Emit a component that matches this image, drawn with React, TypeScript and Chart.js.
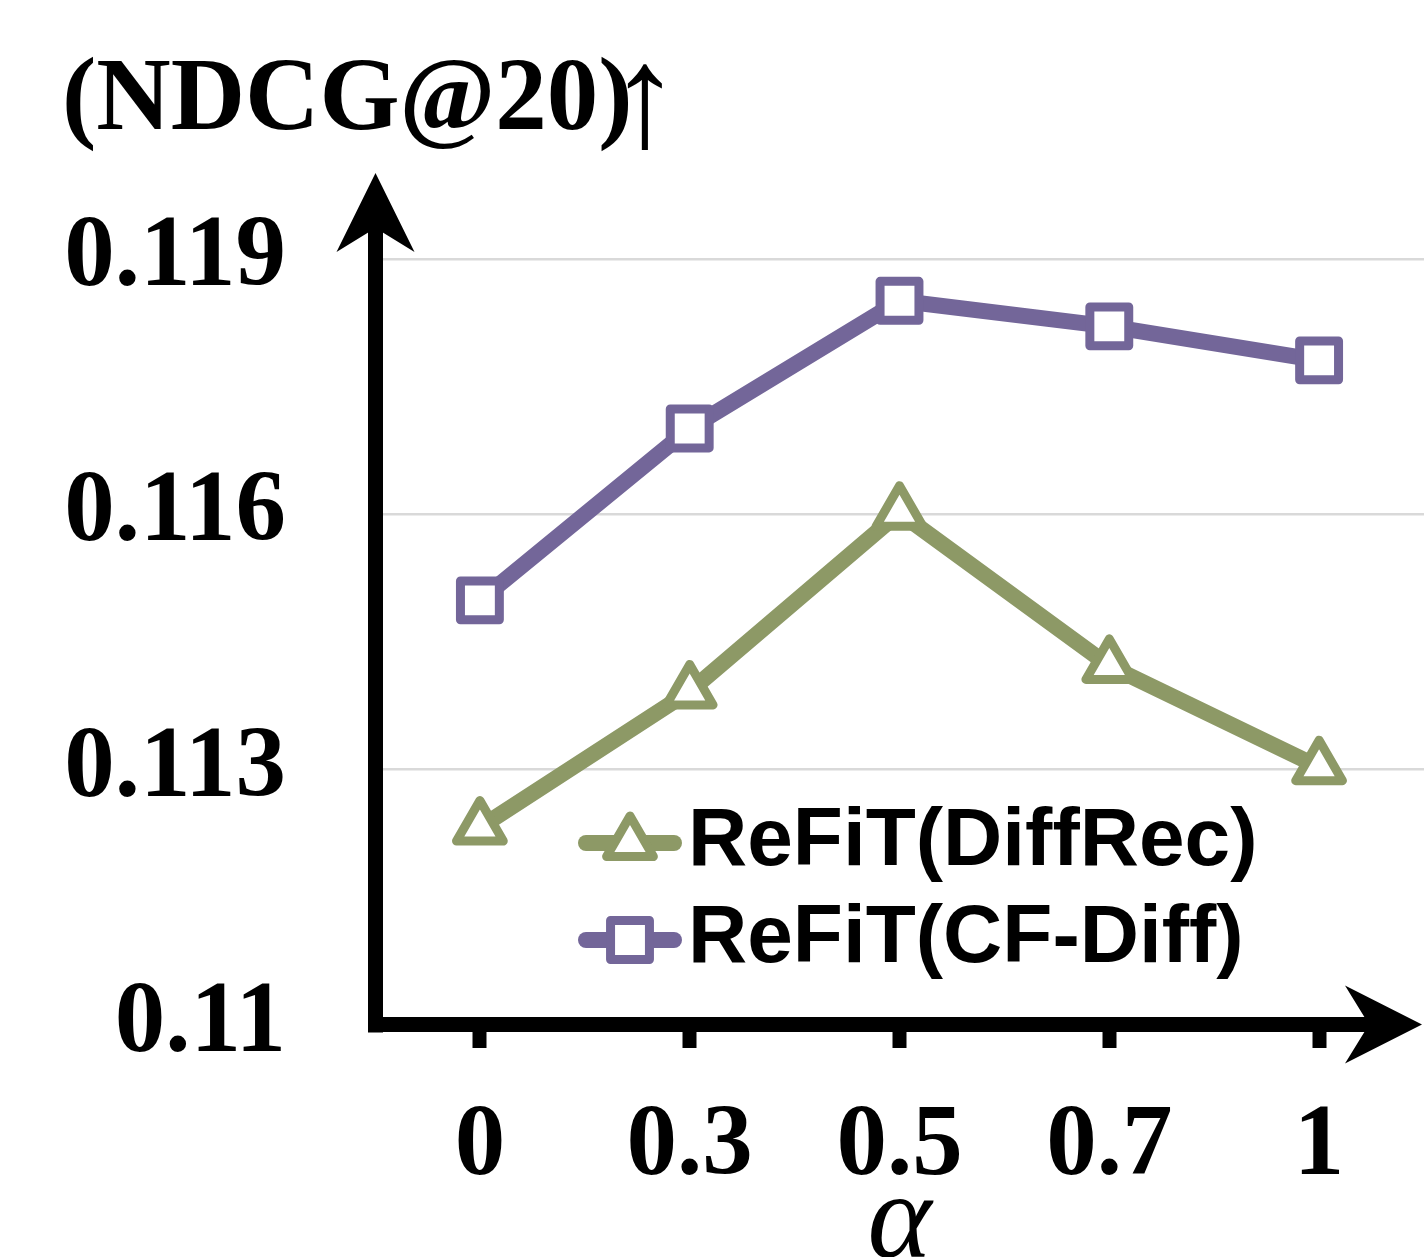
import { useEffect, useRef } from 'react';
import { Chart, registerables } from 'chart.js';
import { drawPoint } from 'chart.js/helpers';

Chart.register(...registerables);

// ---- data ----
const categories = ['0', '0.3', '0.5', '0.7', '1'];
const diffRecValues = [0.11232, 0.11392, 0.11602, 0.11422, 0.11303];
const cfDiffValues = [0.11499, 0.11701, 0.11851, 0.11821, 0.11781];
const yTickValues = [0.11, 0.113, 0.116, 0.119];
const seriesNames = ['ReFiT(DiffRec)', 'ReFiT(CF-Diff)'];
const yAxisTitle = '(NDCG@20)';
const yAxisArrow = '↑';
const xAxisTitle = 'α';

const GREEN = '#8D9966';
const PURPLE = '#736699';

const decorPlugin = {
  id: 'decor',
  beforeDatasetsDraw(chart: any) {
    chart.ctx.lineJoin = 'round';
  },
  afterDraw(chart: any) {
    const { ctx, chartArea: a } = chart;
    ctx.save();
    ctx.fillStyle = '#000';
    const w = 15;
    // y axis line
    const yTipY = a.top - 1;
    const yCx = a.left + 0.5;
    ctx.fillRect(yCx - w / 2, yTipY + 50, w, a.bottom + w / 2 - (yTipY + 50));
    // x axis line
    const xTipX = a.right - 2;
    const xCy = a.bottom - 0.5;
    ctx.fillRect(yCx - w / 2, xCy - w / 2, xTipX - 50 - (yCx - w / 2), w);
    // y arrow head
    ctx.beginPath();
    ctx.moveTo(yCx, yTipY);
    ctx.lineTo(yCx + 39, yTipY + 79);
    ctx.lineTo(yCx, yTipY + 55);
    ctx.lineTo(yCx - 39, yTipY + 79);
    ctx.closePath();
    ctx.fill();
    // x arrow head
    ctx.beginPath();
    ctx.moveTo(xTipX, xCy);
    ctx.lineTo(xTipX - 77, xCy - 39);
    ctx.lineTo(xTipX - 53, xCy);
    ctx.lineTo(xTipX - 77, xCy + 39);
    ctx.closePath();
    ctx.fill();

    // y axis title
    ctx.textAlign = 'left';
    ctx.textBaseline = 'alphabetic';
    ctx.font = 'bold 103px "Liberation Serif"';
    ctx.fillText(yAxisTitle, 62, 129);
    ctx.textAlign = 'center';
    ctx.font = '145px "Liberation Serif", "DejaVu Serif"';
    ctx.fillText(yAxisArrow, 645, 146);

    // legend
    ctx.textAlign = 'left';
    chart.data.datasets.forEach((ds: any, i: number) => {
      const cy = 843 + i * 97;
      ctx.strokeStyle = ds.borderColor;
      ctx.lineWidth = 16;
      ctx.lineCap = 'round';
      ctx.beginPath();
      ctx.moveTo(586, cy);
      ctx.lineTo(674, cy);
      ctx.stroke();
      ctx.lineJoin = 'round';
      ctx.lineWidth = ds.pointBorderWidth;
      ctx.fillStyle = '#fff';
      drawPoint(ctx, { pointStyle: ds.pointStyle, radius: ds.pointRadius, rotation: 0, borderWidth: ds.pointBorderWidth } as any, 630, cy);
      ctx.fillStyle = '#000';
      ctx.font = 'bold 82px "Liberation Sans"';
      ctx.textBaseline = 'middle';
      ctx.fillText(seriesNames[i], 688, cy - 1);
    });
    ctx.restore();
  },
};

export default function App() {
  const ref = useRef<HTMLCanvasElement>(null);
  useEffect(() => {
    document.body.style.margin = '0';
    const tickFont = { family: 'Liberation Serif', size: 101, weight: 'bold' as const };
    const chart = new Chart(ref.current!, {
      type: 'line',
      data: {
        labels: categories,
        datasets: [
          {
            label: seriesNames[0],
            data: diffRecValues,
            borderColor: GREEN,
            backgroundColor: '#fff',
            borderWidth: 16,
            tension: 0,
            borderJoinStyle: 'round',
            pointStyle: 'triangle',
            pointRadius: 27,
            pointBorderWidth: 9,
            pointBackgroundColor: '#fff',
            pointBorderColor: GREEN,
            clip: false as any,
          },
          {
            label: seriesNames[1],
            data: cfDiffValues,
            borderColor: PURPLE,
            backgroundColor: '#fff',
            borderWidth: 16,
            tension: 0,
            borderJoinStyle: 'round',
            pointStyle: 'rect',
            pointRadius: 27.5,
            pointBorderWidth: 9,
            pointBackgroundColor: '#fff',
            pointBorderColor: PURPLE,
            clip: false as any,
          },
        ],
      },
      options: {
        animation: false,
        responsive: false,
        devicePixelRatio: 1,
        layout: { autoPadding: false, padding: { top: 174, left: 0, right: 0, bottom: 0 } },
        plugins: { legend: { display: false }, tooltip: { enabled: false } },
        scales: {
          x: {
            type: 'category',
            offset: true,
            grid: { display: true, drawOnChartArea: false, drawTicks: true, tickLength: 23, tickWidth: 14, tickColor: '#000' },
            border: { display: false },
            ticks: { color: '#000', padding: 39, font: tickFont, maxRotation: 0, autoSkip: false },
            title: {
              display: true,
              text: xAxisTitle,
              color: '#000',
              font: { family: 'Liberation Serif', size: 122, style: 'italic', lineHeight: 0.52 },
              padding: { top: 0, bottom: 0 },
            },
            afterFit: (s: any) => {
              s.height = 232;
              s.paddingLeft = 0;
              s.paddingRight = 0;
            },
          },
          y: {
            type: 'linear',
            min: 0.11,
            max: 0.12,
            afterBuildTicks: (s: any) => { s.ticks = yTickValues.map((v) => ({ value: v })); },
            ticks: { color: '#000', padding: 89, font: tickFont, callback: (v: any) => String(v) },
            grid: {
              color: (c: any) => (c.tick && c.tick.value === 0.11 ? 'rgba(0,0,0,0)' : '#D9D9D9'),
              lineWidth: 2.5,
              drawTicks: false,
            },
            border: { display: false },
            afterFit: (s: any) => {
              s.width = 375;
              s.paddingTop = 0;
              s.paddingBottom = 0;
            },
          },
        },
      },
      plugins: [decorPlugin],
    });
    return () => chart.destroy();
  }, []);
  return <canvas ref={ref} width={1424} height={1257} style={{ display: 'block', width: 1424, height: 1257 }} />;
}
